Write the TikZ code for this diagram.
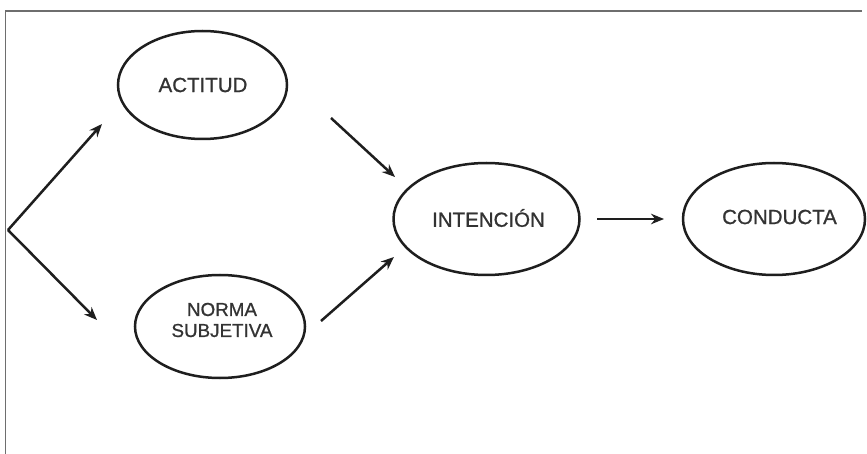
\documentclass[tikz,border=0pt]{standalone}
\usepackage{fontspec}
\setmainfont{Liberation Sans}
\newfontfamily\labfont{Liberation Sans}[FakeBold=0.9]
\usetikzlibrary{arrows.meta}
\definecolor{ink}{HTML}{1E1E1E}
\definecolor{txt}{HTML}{333333}
\definecolor{frame}{HTML}{6E6E6E}
\begin{document}
\begin{tikzpicture}[x=1pt,y=-1pt,
  lbl/.style={font=\labfont\fontsize{20.5}{21}\selectfont,text=txt},
  arr/.style={draw=ink,line width=2.5pt,-{Stealth[length=13pt,width=10.5pt]}}]
\useasboundingbox (0,0) rectangle (867,454);
\fill[white] (0,0) rectangle (867,454);
\draw[frame,line width=1.6pt] (5.5,454) -- (5.5,11) -- (862,11);
% ellipses
\draw[ink,line width=2.5pt] (202.5,85) ellipse [x radius=84.5,y radius=54];
\node[lbl] (act) at (203,85) {ACTITUD};
\draw[ink,line width=2.5pt] (220,326.5) ellipse [x radius=85,y radius=51.5];
\node[lbl,font=\labfont\fontsize{18.8}{21}\selectfont,align=center] (nor) at (222,320) {NORMA\\SUBJETIVA};
\draw[ink,line width=2.5pt] (486.5,219) ellipse [x radius=93,y radius=56];
\node[lbl] (int) at (488.5,218) {INTENCIÓN};
\draw[ink,line width=2.5pt] (774,219) ellipse [x radius=91,y radius=56];
\node[lbl] (con) at (779.5,217) {CONDUCTA};
% arrow ends
\coordinate (o) at (8,230);
\coordinate (a1) at (102,124);
\coordinate (a2) at (97,320);
\coordinate (b0) at (331,118);
\coordinate (b1) at (395,177);
\coordinate (c0) at (321,321);
\coordinate (c1) at (394,257);
\coordinate (d0) at (597,219);
\coordinate (d1) at (664,219);
\draw[arr] (o) -- (a1);
\draw[arr] (o) -- (a2);
\draw[arr] (b0) -- (b1);
\draw[arr] (c0) -- (c1);
\draw[arr] (d0) -- (d1);
\end{tikzpicture}
\end{document}
